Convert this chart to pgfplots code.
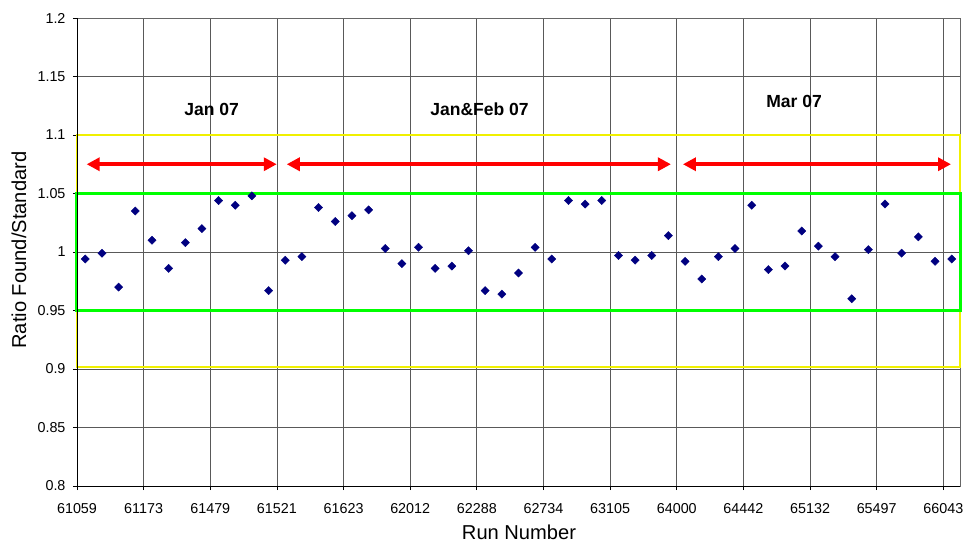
\documentclass[border=0pt]{standalone}
\usepackage{fontspec}
\setmainfont{Liberation Sans}
\usepackage{pgfplots}
\pgfplotsset{compat=1.18}
\usetikzlibrary{arrows.meta}
\definecolor{navy}{RGB}{0,0,128}
\definecolor{ylw}{RGB}{240,240,0}
\definecolor{grn}{RGB}{0,255,0}
\definecolor{rd}{RGB}{255,0,0}
\begin{document}
\begin{tikzpicture}
\begin{axis}[
  scale only axis,
  width=883bp, height=468bp,
  xmin=0, xmax=53, ymin=0.8, ymax=1.2,
  xtick={0,4,...,52},
  xticklabels={61059,61173,61479,61521,61623,62012,62288,62734,63105,64000,64442,65132,65497,66043},
  ytick={0.8,0.85,0.9,0.95,1,1.05,1.1,1.15,1.2},
  yticklabels={0.8,0.85,0.9,0.95,1,1.05,1.1,1.15,1.2},
  tick pos=left,
  grid=major,
  major grid style={black!65, line width=0.8bp},
  axis line style={black!60, line width=0.8bp},
  tick align=outside,
  major tick length=4bp,
  tick style={black, line width=0.8bp},
  ticklabel style={font=\fontsize{14.4}{16}\selectfont},
  xticklabel style={yshift=-10bp},
  yticklabel style={xshift=-4bp},
  /pgf/number format/assume math mode=true,
  xlabel={Run Number},
  ylabel={Ratio Found/Standard},
  label style={font=\fontsize{20.2}{24}\selectfont},
  xlabel style={at={(axis description cs:0.5006,-0.0995)}, anchor=center},
  ylabel style={at={(axis description cs:-0.0657,0.504)}, anchor=center},
  clip=false,
]
\draw[ylw, line width=2bp] (axis cs:0,0.902) rectangle (axis cs:53,1.1);
\draw[grn, line width=3bp] (axis cs:0,0.95) rectangle (axis cs:53,1.05);
\draw[black, line width=0.8bp] (rel axis cs:0,1) -- (rel axis cs:0,0) -- (rel axis cs:1,0);
\draw[rd, line width=4bp, {Triangle[length=13bp,width=13bp]}-{Triangle[length=13bp,width=13bp]}] (axis cs:0.58,1.075) -- (axis cs:11.99,1.075);
\draw[rd, line width=4bp, {Triangle[length=13bp,width=13bp]}-{Triangle[length=13bp,width=13bp]}] (axis cs:12.59,1.075) -- (axis cs:35.65,1.075);
\draw[rd, line width=4bp, {Triangle[length=13bp,width=13bp]}-{Triangle[length=13bp,width=13bp]}] (axis cs:36.37,1.075) -- (axis cs:52.46,1.075);
\node[font=\fontsize{17.6}{20}\bfseries\selectfont] at (axis cs:8.08,1.1222) {Jan 07};
\node[font=\fontsize{17.6}{20}\bfseries\selectfont] at (axis cs:24.16,1.122) {Jan\&Feb 07};
\node[font=\fontsize{17.6}{20}\bfseries\selectfont] at (axis cs:43.04,1.1285) {Mar 07};
\addplot[only marks, mark=square*, mark size=2.9bp, mark options={rotate=45, fill=navy, draw=navy}] coordinates {
(0.5,0.994) (1.5,0.999) (2.5,0.970) (3.5,1.035) (4.5,1.010) (5.5,0.986) (6.5,1.008) (7.5,1.020)
(8.5,1.044) (9.5,1.040) (10.5,1.048) (11.5,0.967) (12.5,0.993) (13.5,0.996) (14.5,1.038) (15.5,1.026)
(16.5,1.031) (17.5,1.036) (18.5,1.003) (19.5,0.990) (20.5,1.004) (21.5,0.986) (22.5,0.988) (23.5,1.001)
(24.5,0.967) (25.5,0.964) (26.5,0.982) (27.5,1.004) (28.5,0.994) (29.5,1.044) (30.5,1.041) (31.5,1.044)
(32.5,0.997) (33.5,0.993) (34.5,0.997) (35.5,1.014) (36.5,0.992) (37.5,0.977) (38.5,0.996) (39.5,1.003)
(40.5,1.040) (41.5,0.985) (42.5,0.988) (43.5,1.018) (44.5,1.005) (45.5,0.996) (46.5,0.960) (47.5,1.002)
(48.5,1.041) (49.5,0.999) (50.5,1.013) (51.5,0.992) (52.5,0.994)
};
\end{axis}
\pgfresetboundingbox
\useasboundingbox (-77bp,-57bp) rectangle (895bp,486bp);
\end{tikzpicture}
\end{document}
